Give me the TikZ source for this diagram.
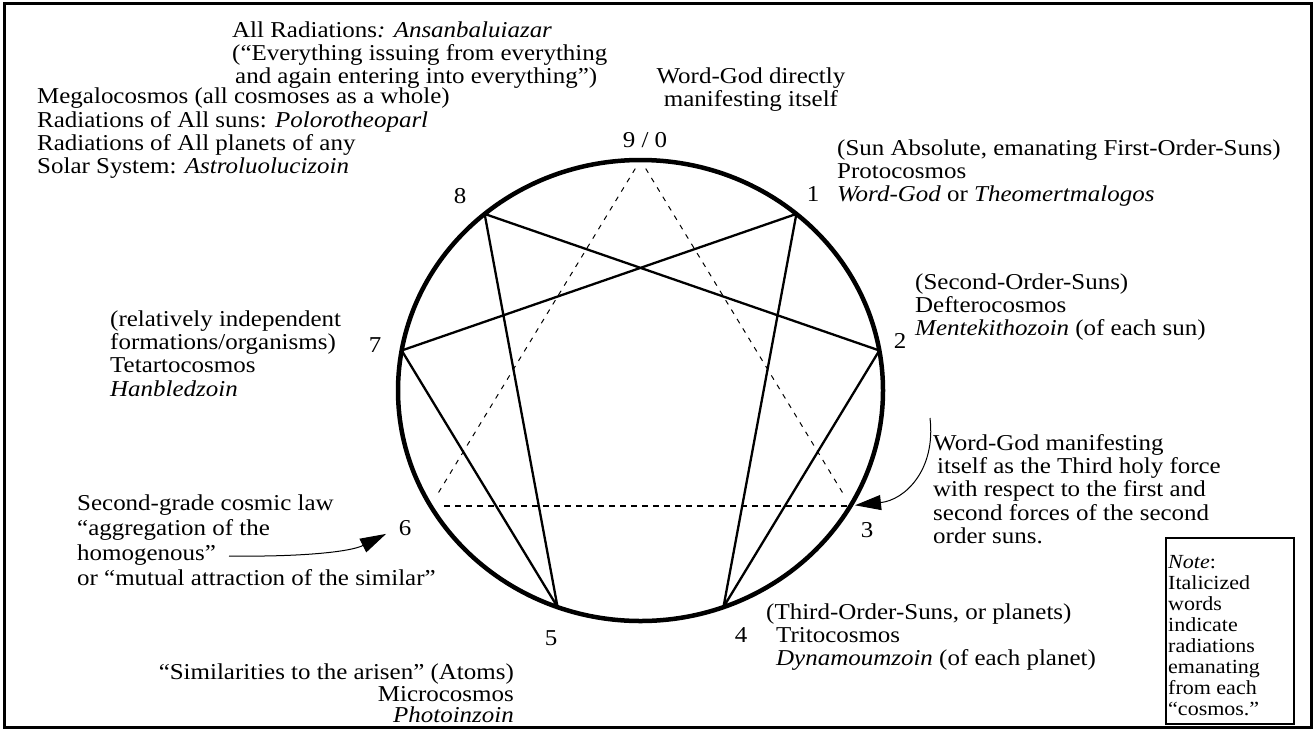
\documentclass[tikz,border=0pt]{standalone}
\usepackage{fontspec}
\setmainfont{Liberation Serif}[FakeStretch=1.1]
\usetikzlibrary{arrows.meta}
\newcommand\msz{\fontsize{22.7}{23.3}\selectfont}
\newcommand\tsz{\fontsize{22.7}{22.5}\selectfont}
\newcommand\wsz{\fontsize{22.7}{25}\selectfont}
\newcommand\ssz{\fontsize{22.7}{20.5}\selectfont}
\newcommand\nsz{\fontsize{20}{21}\selectfont}
\begin{document}
\begin{tikzpicture}[x=1pt,y=-1pt,
  txt/.style={inner sep=0pt, font=\msz, align=left},
  num/.style={inner sep=0pt, font=\msz, anchor=base},
  hex/.style={line width=2.3pt, line cap=round, line join=round},
  thindash/.style={line width=1pt, dash pattern=on 5pt off 6pt},
  middash/.style={line width=1.5pt, dash pattern=on 6pt off 5pt},
  bigarrow/.style={line width=1pt, -{Triangle[length=26pt,width=15pt]}},
]
\useasboundingbox (0,0) rectangle (1316,731);
\draw[line width=3pt] (4,3) rectangle (1311,727);
\foreach \k in {0,...,8}
  \coordinate (p\k) at ({640.5+242.5*sin(40*\k)},{390.5-230.5*cos(40*\k)});
\draw[line width=4.5pt] (640.5,390.5) ellipse [x radius=242.5pt, y radius=230.5pt];
\draw[hex] (p1) -- (p4) -- (p2) -- (p8) -- (p5) -- (p7) -- cycle;
\draw[thindash, shorten <=10pt, shorten >=13pt] (p0) -- (p6);
\draw[thindash, shorten <=10pt, shorten >=10pt] (p0) -- (p3);
\draw[middash, shorten <=14pt, shorten >=3pt] (p6) -- (p3);

% numbers
\node[num] (l0) at (645,147) {9 / 0};
\node[num] (l8) at (460,203) {8};
\node[num] (l1) at (813,201.6) {1};
\node[num] (l7) at (375,352) {7};
\node[num] (l2) at (900,348) {2};
\node[num] (l3) at (867,537) {3};
\node[num] (l6) at (405,535) {6};
\node[num] (l5) at (551,645) {5};
\node[num] (l4) at (741,642) {4};

% text blocks
\node[txt, font=\tsz, anchor=north west] (tl) at (232,21.3) {\strut All Radiations\textit{: Ansanbaluiazar}\\(“Everything issuing from everything\\\hspace{3pt}and again entering into everything”)};
\node[txt, anchor=north, align=center] (wg) at (751,66.7) {\strut Word-God directly\\manifesting itself};
\node[txt, anchor=north west] (mega) at (37,87.2) {\strut Megalocosmos (all cosmoses as a whole)\\Radiations of All suns: \textit{Polorotheoparl}\\Radiations of All planets of any\\Solar System: \textit{Astroluolucizoin}};
\node[txt, anchor=north west] (sun) at (837,138.7) {\strut (Sun Absolute, emanating First-Order-Suns)\\Protocosmos\\\textit{Word-God} or \textit{Theomertmalogos}};
\node[txt, anchor=north west] (b2) at (915,272.7) {\strut (Second-Order-Suns)\\Defterocosmos\\\textit{Mentekithozoin} (of each sun)};
\node[txt, anchor=north west] (b7) at (110,309.7) {\strut (relatively independent\\formations/organisms)\\Tetartocosmos\\\textit{Hanbledzoin}};
\node[txt, anchor=north west] (b3) at (933,433.7) {\strut Word-God manifesting\\\hspace{4pt}itself as the Third holy force\\with respect to the first and\\second forces of the second\\order suns.};
\node[txt, font=\wsz, anchor=north west] (b6) at (77,492.5) {\strut Second-grade cosmic law\\“aggregation of the\\homogenous”\\or “mutual attraction of the similar”};
\node[txt, anchor=north west] (b4) at (776,602.7) {\strut\hspace{-10pt}(Third-Order-Suns, or planets)\\Tritocosmos\\\textit{Dynamoumzoin} (of each planet)};
\node[txt, font=\ssz, anchor=north east, align=right] (b5) at (514,663.7) {\strut “Similarities to the arisen” (Atoms)\\Microcosmos\\\textit{Photoinzoin}};

% note box
\node[draw, line width=2pt, anchor=north west, minimum width=128pt, minimum height=186pt, inner sep=0pt] (notebox) at (1165,537) {};
\node[inner sep=0pt, font=\nsz, align=left, anchor=north west] (note) at (1168,553.3) {\strut\textit{Note}:\\Italicized\\words\\indicate\\radiations\\emanating\\from each\\“cosmos.”};

% arrows
\coordinate (a6s) at (229,556);
\coordinate (a3s) at (930,418);
\draw[bigarrow, shorten >=14pt] (a6s) .. controls (300,557) and (350,552) .. (l6.west);
\draw[bigarrow, shorten >=4.5pt] (a3s) .. controls (936,470) and (905,500) .. (p3);
\end{tikzpicture}
\end{document}
